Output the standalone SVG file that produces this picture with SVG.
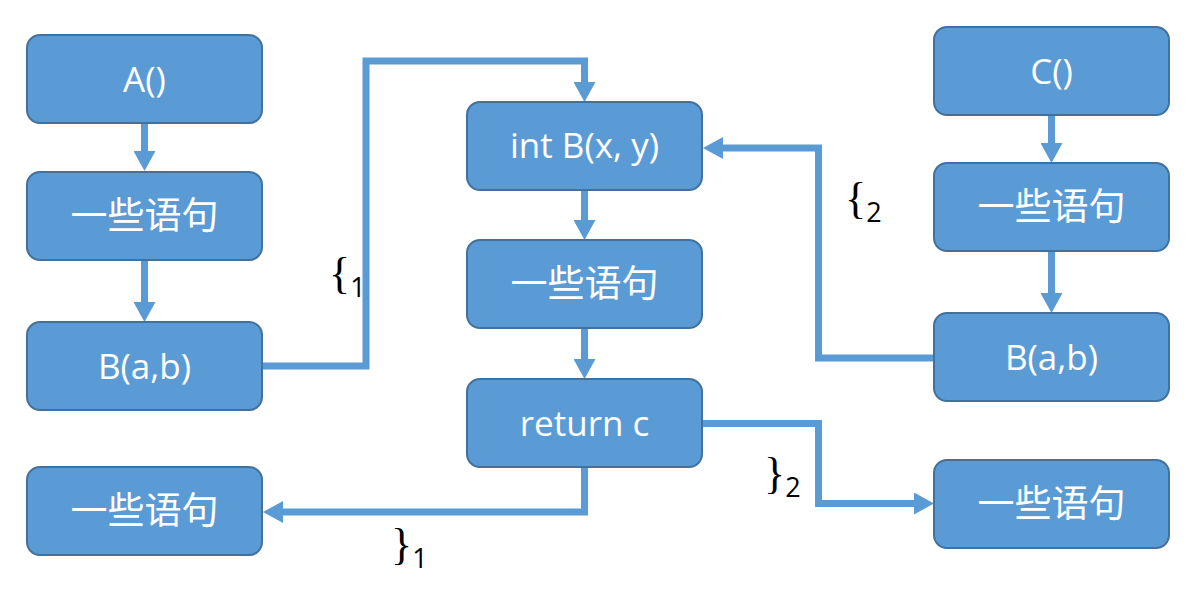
<svg xmlns="http://www.w3.org/2000/svg" width="1200" height="604" viewBox="0 0 1200 604">
<style>
.box{fill:#5B9BD5;stroke:#41719C;stroke-width:2}
.lt{font-family:"Open Sans","Liberation Sans",sans-serif;font-size:35px;fill:#FFFFFF;text-anchor:middle}
.zh{font-family:"Noto Sans CJK SC","Noto Sans",sans-serif;font-size:37px;fill:#FFFFFF;text-anchor:middle}
.con{fill:none;stroke:#5B9BD5;stroke-width:7;stroke-linejoin:miter}
.lbl{fill:#000000}
.br{font-family:"Liberation Serif",serif;font-size:44px}
.sub{font-family:"Open Sans","Liberation Sans",sans-serif;font-size:27px}
</style>
<defs>
<marker id="ah" markerUnits="userSpaceOnUse" markerWidth="20" markerHeight="22" refX="0" refY="11" orient="auto" viewBox="0 0 20 22">
<path d="M0,0 L20,11 L0,22 Z" fill="#5B9BD5"/>
</marker>
</defs>
<rect width="1200" height="604" fill="#FFFFFF"/>
<g id="connectors">
<path class="con" d="M144.5,123 V151" marker-end="url(#ah)"/>
<path class="con" d="M144.5,260 V302" marker-end="url(#ah)"/>
<path class="con" d="M262,366 H366 V61 H584.5 V82" marker-end="url(#ah)"/>
<path class="con" d="M584.5,190 V220" marker-end="url(#ah)"/>
<path class="con" d="M584.5,328 V359" marker-end="url(#ah)"/>
<path class="con" d="M584.5,467 V512 H283" marker-end="url(#ah)"/>
<path class="con" d="M1051.5,115 V143" marker-end="url(#ah)"/>
<path class="con" d="M1051.5,251 V293" marker-end="url(#ah)"/>
<path class="con" d="M934,358 H818.5 V148 H723" marker-end="url(#ah)"/>
<path class="con" d="M702,423.5 H818.5 V503.5 H914" marker-end="url(#ah)"/>
</g>
<g id="nodeA">
<rect class="box" x="27" y="35" width="235" height="88" rx="13"/>
<text class="lt" x="144.5" y="92">A()</text>
</g>
<g id="nodeA1">
<rect class="box" x="27" y="172" width="235" height="88" rx="13"/>
<text class="zh" x="144.5" y="229">一些语句</text>
</g>
<g id="nodeA2">
<rect class="box" x="27" y="322" width="235" height="88" rx="13"/>
<text class="lt" x="144.5" y="379">B(a,b)</text>
</g>
<g id="nodeA3">
<rect class="box" x="27" y="467" width="235" height="88" rx="13"/>
<text class="zh" x="144.5" y="524">一些语句</text>
</g>
<g id="nodeB">
<rect class="box" x="467" y="102" width="235" height="88" rx="13"/>
<text class="lt" x="584.5" y="158">int B(x, y)</text>
</g>
<g id="nodeB1">
<rect class="box" x="467" y="240" width="235" height="88" rx="13"/>
<text class="zh" x="584.5" y="297">一些语句</text>
</g>
<g id="nodeB2">
<rect class="box" x="467" y="379" width="235" height="88" rx="13"/>
<text class="lt" x="584.5" y="436">return c</text>
</g>
<g id="nodeC">
<rect class="box" x="934" y="27" width="235" height="88" rx="13"/>
<text class="lt" x="1051.5" y="84">C()</text>
</g>
<g id="nodeC1">
<rect class="box" x="934" y="163" width="235" height="88" rx="13"/>
<text class="zh" x="1051.5" y="220">一些语句</text>
</g>
<g id="nodeC2">
<rect class="box" x="934" y="313" width="235" height="88" rx="13"/>
<text class="lt" x="1051.5" y="370">B(a,b)</text>
</g>
<g id="nodeC3">
<rect class="box" x="934" y="460" width="235" height="88" rx="13"/>
<text class="zh" x="1051.5" y="517">一些语句</text>
</g>
<g id="labels">
<text class="lbl" x="329" y="288"><tspan class="br">{</tspan><tspan class="sub" dy="9">1</tspan></text>
<text class="lbl" x="845" y="213"><tspan class="br">{</tspan><tspan class="sub" dy="9">2</tspan></text>
<text class="lbl" x="764" y="488"><tspan class="br">}</tspan><tspan class="sub" dy="9">2</tspan></text>
<text class="lbl" x="391" y="559"><tspan class="br">}</tspan><tspan class="sub" dy="9">1</tspan></text>
</g>
</svg>
